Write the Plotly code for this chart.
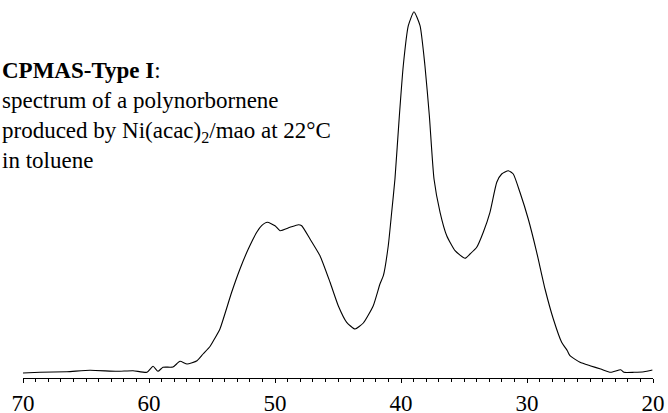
import plotly.graph_objects as go

# chemical shift (ppm) and intensity (arbitrary units)
ppm = [70.0, 68.65, 66.51, 64.68, 62.54, 61.27, 60.16, 59.68, 59.29, 58.89,
       58.10, 57.54, 56.98, 56.19, 55.71, 55.16, 54.76, 54.37, 53.44, 52.78,
       52.12, 51.45, 51.06, 50.61, 50.0, 49.60, 48.81, 48.15, 47.88, 47.22,
       46.43, 45.63, 44.98, 44.31, 43.65, 42.99, 42.20, 41.67, 41.40, 41.01,
       40.74, 40.48, 40.13, 39.82, 39.42, 38.97, 38.49, 38.10, 37.75, 37.38,
       36.90, 36.37, 35.71, 34.92, 34.52, 33.99, 33.47, 32.94, 32.40, 32.01,
       31.48, 31.09, 30.56, 29.90, 29.23, 28.57, 27.91, 27.25, 26.80, 26.59,
       25.79, 25.0, 24.15, 23.36, 22.56, 22.30, 21.51, 20.71, 20.05]
intensity = [5, 5.7, 6.3, 7.7, 6.7, 7.3, 5.7, 11.7, 6.7, 10.7,
             11, 16.7, 14, 17.3, 24, 31.5, 40, 49, 85.7, 109,
             129, 145.7, 152.3, 155.7, 152.3, 147.3, 150.7, 153.3, 152.3, 139,
             122.3, 95.7, 72.3, 55.7, 49, 55, 72.3, 94, 102.3, 132.3,
             165.7, 199, 262.3, 312.3, 352.3, 366.3, 352.3, 312.3, 262.3, 199,
             165.7, 142.3, 127.3, 119.7, 124, 130.7, 145.7, 165.7, 195.7, 204,
             207.3, 204, 185.7, 159, 125.7, 89, 59, 35.7, 27.3, 22.3,
             15.7, 12.3, 9, 5.7, 8.3, 5.7, 5.7, 6.3, 8]

tick_vals = [70, 60, 50, 40, 30, 20]
tick_text = ["70", "60", "50", "40", "30", "20"]

FONT = "Times New Roman"

fig = go.Figure()
fig.add_trace(go.Scatter(
    x=ppm, y=intensity, mode="lines",
    line=dict(color="black", width=1.1, shape="spline", smoothing=0.5),
    hoverinfo="skip", showlegend=False))

fig.update_layout(
    width=668, height=413,
    margin=dict(l=23, r=15, t=5, b=35, autoexpand=False),
    paper_bgcolor="white", plot_bgcolor="white",
    xaxis=dict(range=[70, 20], showgrid=False, zeroline=False,
               automargin=False,
               showline=True, linecolor="black", linewidth=1,
               tickmode="array", tickvals=tick_vals, ticktext=tick_text,
               ticks="outside", ticklen=4, tickcolor="black", tickwidth=1,
               minor=dict(dtick=1, ticks="outside", ticklen=3,
                          tickcolor="black", tickwidth=1, showgrid=False),
               tickfont=dict(family=FONT, size=23, color="black"),
               ticklabelstandoff=0),
    yaxis=dict(range=[0, 373], visible=False, fixedrange=True,
               automargin=False),
    annotations=[dict(
        xref="paper", yref="paper", x=-23 / 630, y=0.864,
        xanchor="left", yanchor="top", align="left", showarrow=False,
        font=dict(family=FONT, size=23, color="black"),
        text=("<b>CPMAS-Type I</b>:<br>spectrum of a polynorbornene<br>"
              "produced by Ni(acac)<sub>2</sub>/mao at 22°C<br>in toluene"))],
)

fig.write_html("out.html",
               config={"displayModeBar": False, "staticPlot": True},
               post_script="document.body.style.margin='0';"
                           "document.body.style.padding='0';")
